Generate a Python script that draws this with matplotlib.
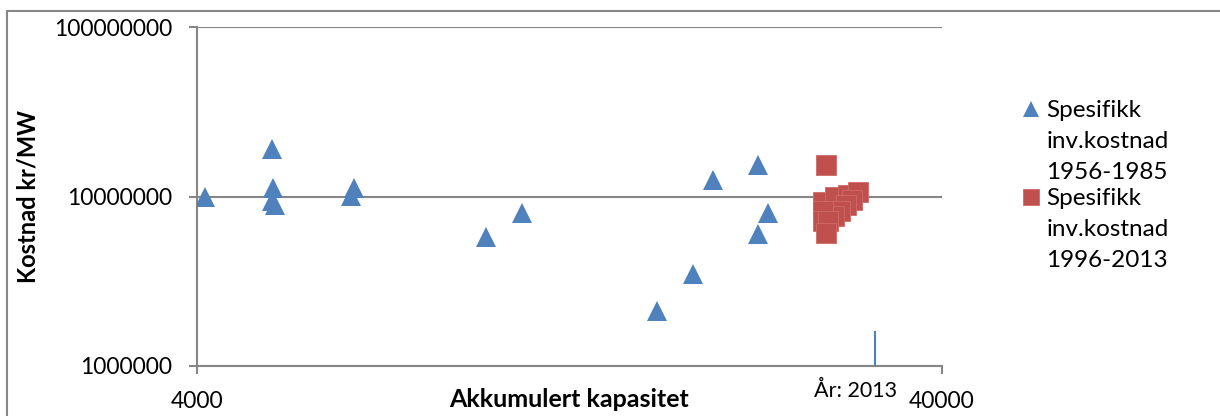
import matplotlib.pyplot as plt
from matplotlib.patches import Rectangle
from matplotlib.lines import Line2D
from matplotlib.ticker import FixedLocator, NullLocator

plt.rcParams['font.family'] = ['Lato', 'DejaVu Sans']

# spesifikk inv.kostnad 1956-1985 (triangles)
kap_old = [4100, 5039, 5054, 5043, 5095, 6502, 6445, 9774, 10933,
           16592, 18548, 19727, 22669, 23384, 22669]
kost_old = [9.87e6, 1.897e7, 1.119e7, 9.47e6, 8.97e6, 1.119e7, 1.004e7, 5.76e6, 8.02e6,
            2.11e6, 3.51e6, 1.259e7, 1.543e7, 8.02e6, 5.98e6]

# spesifikk inv.kostnad 1996-2013 (squares)
kap_new = [27930, 27690, 28735, 29910, 30850, 30290, 29730, 29185, 28645,
           27690, 27690, 28125, 27950]
kost_new = [1.543e7, 9.22e6, 1.0e7, 1.027e7, 1.056e7, 9.6e6, 8.85e6, 8.16e6, 7.63e6,
            8.16e6, 7.13e6, 7.13e6, 6.06e6]

# marker for year 2013
aar_x = 32520
aar_y = [1e6, 1.585e6]

xticks = [4000, 40000]
yticks = [1e6, 1e7, 1e8]
ytick_labels = ['1000000', '10000000', '100000000']
leg_old = ['Spesifikk', 'inv.kostnad', '1956-1985']
leg_new = ['Spesifikk', 'inv.kostnad', '1996-2013']

blue = '#4F81BD'
red = '#C0504D'
grey = '#868686'

fig = plt.figure(figsize=(12.2, 4.16), dpi=100)
ax = fig.add_axes([197/1220, 1-366/416, (942-197)/1220, (366-27)/416])

h_old, = ax.plot(kap_old, kost_old, '^', color=blue, ms=14.4, mew=0, zorder=3)
h_new, = ax.plot(kap_new, kost_new, 's', color=red, ms=14.4, mew=0.6, mec='#d06a67', zorder=3)
ax.plot([aar_x, aar_x], aar_y, color=blue, lw=1.5, zorder=3)
ax.annotate('År: 2013', xy=(30660, 0), xycoords=('data', 'axes fraction'),
            xytext=(0, -11), textcoords='offset points', ha='center', va='top',
            fontsize=15.5)

ax.set_xscale('log')
ax.set_yscale('log')
ax.set_xlim(4000, 40000)
ax.set_ylim(1e6, 1e8)

ax.xaxis.set_major_locator(FixedLocator(xticks))
ax.xaxis.set_minor_locator(NullLocator())
ax.set_xticklabels(['4000', '40000'])
ax.yaxis.set_major_locator(FixedLocator(yticks))
ax.yaxis.set_minor_locator(NullLocator())
ax.set_yticklabels(ytick_labels)

ax.tick_params(axis='both', labelsize=16.5, color=grey, width=1.5, length=6, direction='out')
ax.tick_params(axis='y', pad=12)
ax.tick_params(axis='x', pad=12)

ax.yaxis.grid(True, color=grey, lw=1.5)
ax.set_axisbelow(True)
for s in ['top', 'right']:
    ax.spines[s].set_visible(False)
for s in ['left', 'bottom']:
    ax.spines[s].set_color(grey)
    ax.spines[s].set_linewidth(1.5)

ax.set_ylabel('Kostnad kr/MW', fontsize=17, fontweight='bold', labelpad=10)
ax.set_xlabel('Akkumulert kapasitet', fontsize=18, fontweight='bold', labelpad=-17)

# legend: marker beside the first line only, two blocks
blank = Line2D([], [], ls='none', marker='none')
legkw = dict(loc='upper left', bbox_transform=fig.transFigure, frameon=False, fontsize=17.5,
             handlelength=0.8, handletextpad=0.25, labelspacing=0.42,
             borderpad=0, borderaxespad=0, markerscale=0.8)
leg1 = ax.legend([h_old, blank, blank], leg_old, bbox_to_anchor=(1021/1220, 1-100/416), **legkw)
ax.add_artist(leg1)
ax.legend([h_new, blank, blank], leg_new, bbox_to_anchor=(1021/1220, 1-188/416), **legkw)

fig.add_artist(Rectangle((7/1220, -0.1), 1.2, 1.1 - 11/416, transform=fig.transFigure,
                         fill=False, ec=grey, lw=1.5))

fig.savefig('out.png', dpi=100)
